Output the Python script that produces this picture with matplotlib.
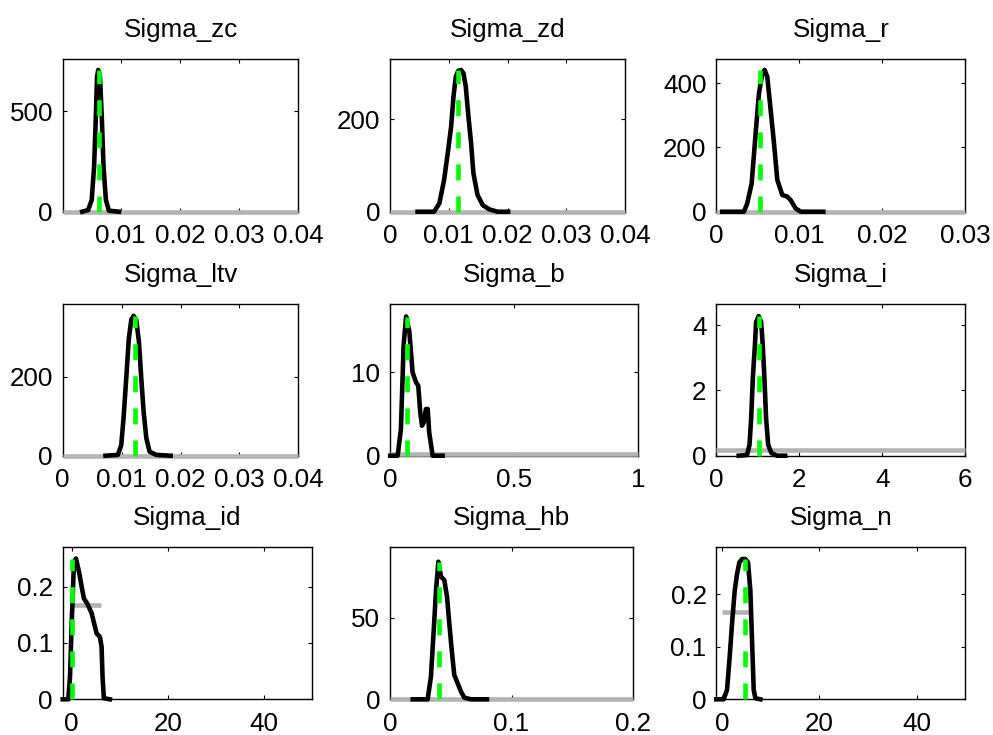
import matplotlib
matplotlib.use("Agg")
import matplotlib.pyplot as plt

plt.rcParams['font.family'] = ['Liberation Sans', 'DejaVu Sans']

W, H = 993, 735
FS = 18.7

titles = ['Sigma_zc', 'Sigma_zd', 'Sigma_r',
          'Sigma_ltv', 'Sigma_b', 'Sigma_i',
          'Sigma_id', 'Sigma_hb', 'Sigma_n']

# posterior densities (black)
zc_x = [0.0035, 0.0045, 0.0051, 0.0055, 0.0058, 0.0060, 0.0062, 0.0065, 0.0068,
        0.0071, 0.0075, 0.0080, 0.0097]
zc_y = [0, 8, 58, 223, 472, 670, 704, 670, 472, 223, 58, 5, 0]

zd_x = [0.0047, 0.0075, 0.0084, 0.0092, 0.0099, 0.0104, 0.0108, 0.0112, 0.0116,
        0.0121, 0.0125, 0.0129, 0.0133, 0.0138, 0.0142, 0.0149, 0.0158, 0.0169,
        0.0183, 0.0201]
zd_y = [0, 0, 18, 68, 133, 183, 248, 291, 304, 306, 299, 270, 212, 148, 83, 36,
        14, 5, 0, 0]

r_x = [0.00072, 0.00333, 0.00373, 0.00426, 0.00474, 0.00514, 0.00554, 0.00582,
       0.00614, 0.00655, 0.00695, 0.00735, 0.00795, 0.00855, 0.00896, 0.00956,
       0.01016, 0.01289]
r_y = [0, 0, 26, 88, 244, 368, 430, 441, 420, 316, 213, 99, 52, 47, 36, 10, 0, 0]

ltv_x = [0.00727, 0.00936, 0.00994, 0.01033, 0.01079, 0.01123, 0.01164, 0.01203,
         0.01249, 0.01294, 0.01334, 0.01374, 0.01420, 0.01476, 0.01589, 0.01833]
ltv_y = [0, 2, 27, 95, 196, 297, 344, 354, 344, 289, 196, 111, 44, 10, 2, 0]

b_x = [0.001, 0.031, 0.044, 0.055, 0.065, 0.078, 0.091, 0.105, 0.114, 0.122,
       0.129, 0.136, 0.145, 0.152, 0.158, 0.172, 0.212]
b_y = [0, 0, 3.2, 13.3, 16.7, 14.9, 10.0, 8.8, 8.4, 5.2, 3.6, 4.0, 5.6, 5.6,
       2.8, 0, 0]

i_x = [0.54, 0.74, 0.80, 0.84, 0.88, 0.93, 0.96, 1.02, 1.08, 1.12, 1.16, 1.20,
       1.25, 1.33, 1.46, 1.66]
i_y = [0, 0.02, 0.33, 1.14, 2.37, 3.39, 4.1, 4.28, 4.1, 3.39, 2.37, 1.14, 0.33,
       0.08, 0, 0]

id_x = [-1.87, -0.70, -0.35, 0.0, 0.48, 0.89, 1.58, 2.07, 2.55, 3.24, 4.15,
        5.18, 5.87, 6.22, 6.42, 6.69, 7.94]
id_y = [0, 0, 0.040, 0.135, 0.244, 0.250, 0.224, 0.200, 0.179, 0.170, 0.153,
        0.117, 0.111, 0.093, 0.040, 0.002, 0]

hb_x = [0.0187, 0.031, 0.0337, 0.036, 0.0379, 0.0398, 0.042, 0.0447, 0.0469,
        0.0488, 0.0508, 0.0529, 0.0557, 0.0584, 0.0612, 0.0667, 0.0798]
hb_y = [0, 0, 13.9, 42.5, 67, 84.3, 75.1, 73.1, 62.9, 46.6, 30.2, 14.9, 9.8,
        4.7, 1.0, 0, 0]

n_x = [-1.17, 0.34, 1.03, 1.58, 2.06, 2.61, 3.09, 3.57, 4.12, 4.80, 5.35, 5.83,
       6.17, 6.52, 6.86, 7.89]
n_y = [0, 0, 0.0177, 0.081, 0.144, 0.207, 0.239, 0.261, 0.2675, 0.2675, 0.261,
       0.207, 0.1125, 0.0177, 0.002, 0]

post_x = [zc_x, zd_x, r_x, ltv_x, b_x, i_x, id_x, hb_x, n_x]
post_y = [zc_y, zd_y, r_y, ltv_y, b_y, i_y, id_y, hb_y, n_y]

# posterior mode (green dashed)
modes = [0.0063, 0.0116, 0.0053, 0.0122, 0.070, 1.02, 0.05, 0.040, 4.8]

# uniform prior (grey)
prior_lo, prior_hi, prior_dens = 0.0, 6.0, 0.1667

xlims = [(0.0002, 0.04), (0, 0.04), (0, 0.03),
         (0, 0.04), (0, 1), (0, 6),
         (-1.87, 50), (0, 0.2), (-1.17, 50)]
ytops = [757, 329, 474, 384, 18.2, 4.65, 0.271, 93.5, 0.291]

xticks = [[0.01, 0.02, 0.03, 0.04], [0, 0.01, 0.02, 0.03, 0.04], [0, 0.01, 0.02, 0.03],
          [0, 0.01, 0.02, 0.03, 0.04], [0, 0.5, 1], [0, 2, 4, 6],
          [0, 20, 40], [0, 0.1, 0.2], [0, 20, 40]]
xlabels = [['0.01', '0.02', '0.03', '0.04'], ['0', '0.01', '0.02', '0.03', '0.04'],
           ['0', '0.01', '0.02', '0.03'], ['0', '0.01', '0.02', '0.03', '0.04'],
           ['0', '0.5', '1'], ['0', '2', '4', '6'], ['0', '20', '40'],
           ['0', '0.1', '0.2'], ['0', '20', '40']]
yticks = [[0, 500], [0, 200], [0, 200, 400], [0, 200], [0, 10], [0, 2, 4],
          [0, 0.1, 0.2], [0, 50], [0, 0.1, 0.2]]
ylabels = [['0', '500'], ['0', '200'], ['0', '200', '400'], ['0', '200'],
           ['0', '10'], ['0', '2', '4'], ['0', '0.1', '0.2'], ['0', '50'],
           ['0', '0.1', '0.2']]

# axes boxes in pixels: left, top, right, bottom
boxes = [(62.7, 59.3, 298.3, 211.7), (390, 59.3, 625, 211.7), (716.3, 59.3, 965.3, 211.7),
         (62.7, 304, 298.3, 455.7), (390, 304, 638, 455.7), (716.3, 304, 965.3, 455.7),
         (62.7, 546.7, 312, 699.3), (390, 546.7, 633, 699.3), (716.3, 546.7, 965.3, 699.3)]

fig = plt.figure(figsize=(W / 100, H / 100), dpi=100)

for k in range(9):
    l, t, r, b = boxes[k]
    ax = fig.add_axes([l / W, 1 - b / H, (r - l) / W, (b - t) / H])
    x0, x1 = xlims[k]

    # prior
    px0, px1 = max(prior_lo, x0), min(prior_hi, x1)
    ax.plot([px0, px1], [prior_dens, prior_dens], color=(0.7, 0.7, 0.7),
            lw=3.3, solid_capstyle='butt', clip_on=False, zorder=3)
    # posterior
    ax.plot(post_x[k], post_y[k], color='k', lw=3.3, clip_on=False, zorder=4)
    # mode
    ax.plot([modes[k], modes[k]], [0, max(post_y[k])], color='#00ff00', lw=3.3,
            dashes=(3.5, 3.5), dash_capstyle='butt', clip_on=False, zorder=5)

    ax.set_xlim(x0, x1)
    ax.set_ylim(0, ytops[k])
    ax.set_xticks(xticks[k])
    ax.set_xticklabels(xlabels[k])
    ax.set_yticks(yticks[k])
    ax.set_yticklabels(ylabels[k])
    ax.tick_params(direction='in', top=True, right=True, length=3, width=0.8,
                   labelsize=FS)
    ax.tick_params(axis='x', pad=9)
    ax.tick_params(axis='y', pad=7)
    for s in ax.spines.values():
        s.set_linewidth(1.0)
    ax.set_title(titles[k], fontsize=FS, pad=15.8)

fig.savefig('out.png', dpi=100)
